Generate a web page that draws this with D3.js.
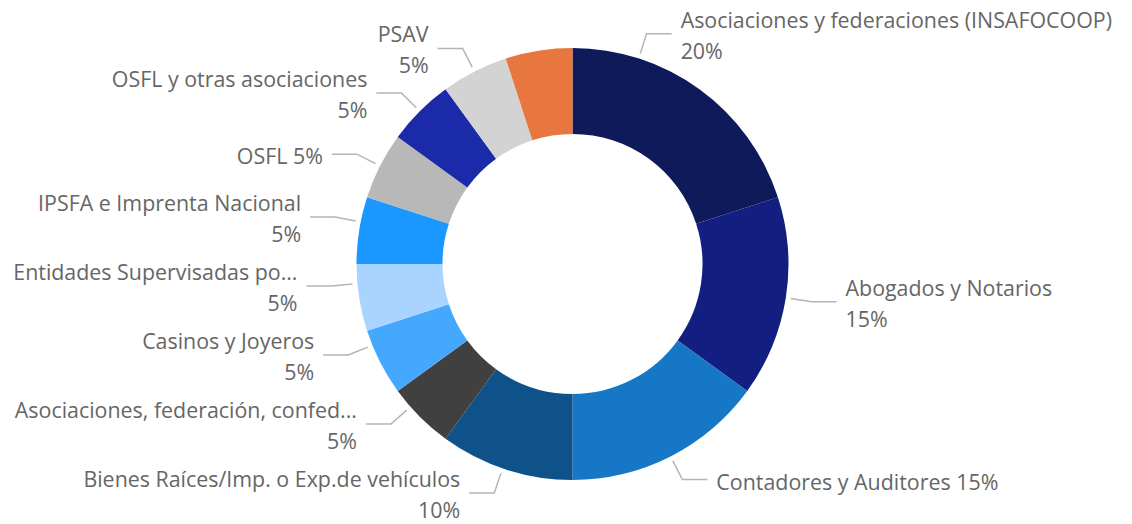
<!DOCTYPE html>
<html>
<head>
<meta charset="utf-8">
<script src="https://cdn.jsdelivr.net/npm/d3@7"></script>
<style>
  html, body { margin: 0; padding: 0; background: #fff; }
  svg { display: block; }
  .lbl { font-family: "Segoe UI", "Open Sans", "Noto Sans", sans-serif; font-size: 21.4px; fill: #666; }
</style>
</head>
<body>
<svg id="chart" width="1132" height="524"></svg>
<script>
// slices, clockwise from 12 o'clock
const categories = [
  "Asociaciones y federaciones (INSAFOCOOP)",
  "Abogados y Notarios",
  "Contadores y Auditores",
  "Bienes Raíces/Imp. o Exp.de vehículos",
  "Asociaciones, federación, confed...",
  "Casinos y Joyeros",
  "Entidades Supervisadas po...",
  "IPSFA e Imprenta Nacional",
  "OSFL",
  "OSFL y otras asociaciones",
  "PSAV",
  "Otros sujetos obligados"
];
const values = [20, 15, 15, 10, 5, 5, 5, 5, 5, 5, 5, 5];
const colors = [
  "#0e1a59", "#131f80", "#1577c6", "#0f5189", "#404040", "#45a8ff",
  "#a9d4ff", "#1a98ff", "#b8b8b8", "#1a2aa8", "#d3d3d3", "#e8763f"
];

window.onload = function() {
  const svg = d3.select("#chart");
  const width = +svg.attr("width");
  const height = +svg.attr("height");

  const cx = 572.5, cy = 264;
  const rOuter = 216, rInner = 130;
  const rStart = rOuter + 5, rElbow = rOuter + 26;
  const hLeader = 25, textGap = 9;
  const lineH = 31, pad = 18, margin = 20;
  // labels that Power BI kept on one line
  const singleLine = new Set(["Contadores y Auditores", "OSFL"]);

  const data = categories.map((c, i) => ({ name: c, value: values[i], color: colors[i] }));
  const total = d3.sum(values);

  const pie = d3.pie().sort(null).value(d => d.value);
  const arc = d3.arc().innerRadius(rInner).outerRadius(rOuter);
  const arcs = pie(data);

  const g = svg.append("g").attr("transform", `translate(${cx},${cy})`);
  g.selectAll("path")
    .data(arcs)
    .enter().append("path")
    .attr("d", arc)
    .attr("fill", d => d.data.color);

  // labels
  const pct = d => d3.format(".0%")(d.data.value / total);
  const labels = arcs.map(d => {
    const mid = (d.startAngle + d.endAngle) / 2;
    const one = singleLine.has(d.data.name);
    return {
      arc: d,
      side: mid < Math.PI ? 1 : -1,
      angle: mid,
      lines: one ? [d.data.name + " " + pct(d)] : [d.data.name, pct(d)],
      up: one ? 5 : 21,     // block extent above leader
      down: one ? 15 : 30,  // block extent below leader
      hidden: false
    };
  });

  // measure text widths
  const probe = svg.append("text").attr("class", "lbl");
  labels.forEach(l => {
    l.w = d3.max(l.lines, t => { probe.text(t); return probe.node().getComputedTextLength(); });
  });
  probe.remove();

  const ex = a => cx + rElbow * Math.sin(a);
  const ey = a => cy - rElbow * Math.cos(a);
  const angleFromY = (l, y) => {
    const c = (cy - y) / rElbow;
    if (Math.abs(c) > 1) return null;
    return l.side > 0 ? Math.acos(c) : 2 * Math.PI - Math.acos(c);
  };
  const extent = l => {
    const x = ex(l.angle) + l.side * (hLeader + textGap);
    return l.side > 0 ? [x, x + l.w] : [x - l.w, x];
  };
  const lastBaseline = l => l.lines.length > 1 ? l.y - 6 + lineH : l.y + 10;

  // keep text inside the chart
  labels.forEach(l => {
    const [x0, x1] = extent(l);
    let shift = 0;
    if (x1 > width - margin) shift = x1 - (width - margin);
    if (x0 < margin) shift = x0 - margin;
    if (shift !== 0) {
      const s = (ex(l.angle) - shift - cx) / rElbow;
      const a = Math.asin(Math.max(-1, Math.min(1, s)));
      const upper = Math.cos(l.angle) > 0;
      if (l.side > 0) l.angle = upper ? a : Math.PI - a;
      else l.angle = upper ? 2 * Math.PI + a : Math.PI - a;
    }
    l.y = ey(l.angle);
    const over = lastBaseline(l) - (height - 6);
    if (over > 0) {
      l.y -= over;
      l.angle = angleFromY(l, l.y);
    }
  });

  // push overlapping labels apart: left side upwards from the bottom, right side downwards
  function resolve(side) {
    const group = labels.filter(l => l.side === side)
      .sort((a, b) => side < 0 ? b.y - a.y : a.y - b.y);
    const placed = [];
    group.forEach(l => {
      for (let k = 0; k < 2; k++) {
        const [x0, x1] = extent(l);
        placed.forEach(p => {
          const [p0, p1] = extent(p);
          if (x1 < p0 || x0 > p1) return;
          if (side < 0) l.y = Math.min(l.y, p.y - p.up - pad - l.down);
          else l.y = Math.max(l.y, p.y + p.down + pad + l.up);
        });
        const a = angleFromY(l, l.y);
        if (a === null) { l.hidden = true; return; }
        l.angle = a;
      }
      const a = l.angle;
      const inSlice = a >= l.arc.startAngle && a <= l.arc.endAngle;
      if (!inSlice || l.y - l.up < 0) { l.hidden = true; return; }
      placed.push(l);
    });
  }
  resolve(-1);
  resolve(1);

  const shown = labels.filter(l => !l.hidden);

  svg.append("g")
    .selectAll("polyline")
    .data(shown)
    .enter().append("polyline")
    .attr("fill", "none")
    .attr("stroke", "#b4b4b4")
    .attr("stroke-width", 1.5)
    .attr("points", l => {
      const x0 = cx + rStart * Math.sin(l.angle), y0 = cy - rStart * Math.cos(l.angle);
      const x1 = ex(l.angle), y1 = ey(l.angle);
      return [[x0, y0], [x1, y1], [x1 + l.side * hLeader, y1]].join(" ");
    });

  const text = svg.append("g")
    .selectAll("text")
    .data(shown)
    .enter().append("text")
    .attr("class", "lbl")
    .attr("text-anchor", l => l.side > 0 ? "start" : "end")
    .attr("x", l => ex(l.angle) + l.side * (hLeader + textGap))
    .attr("y", l => l.lines.length > 1 ? l.y - 6 : l.y + 10);

  text.selectAll("tspan")
    .data(l => l.lines.map((t, i) => ({ t, i, l })))
    .enter().append("tspan")
    .attr("x", d => ex(d.l.angle) + d.l.side * (hLeader + textGap))
    .attr("dy", d => d.i === 0 ? 0 : lineH)
    .text(d => d.t);
};
</script>
</body>
</html>
